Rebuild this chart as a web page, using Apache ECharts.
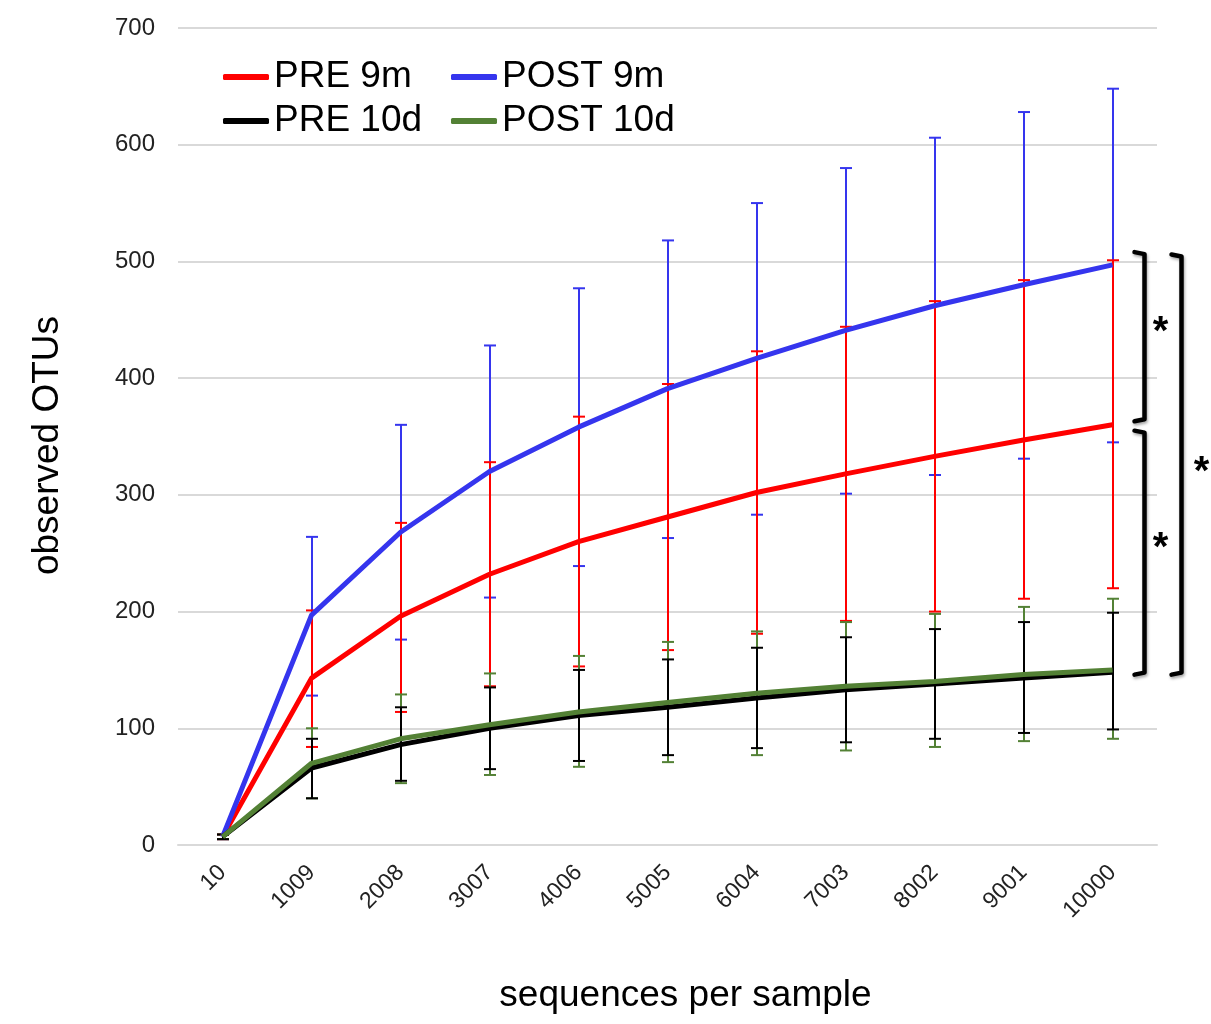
<!DOCTYPE html>
<html><head><meta charset="utf-8">
<script src="https://cdn.jsdelivr.net/npm/echarts@6/dist/echarts.min.js"></script>
<style>html,body{margin:0;padding:0;background:#fff}#c{width:1211px;height:1024px}</style>
</head><body><div id="c"></div>
<script>
const categories = ['10','1009','2008','3007','4006','5005','6004','7003','8002','9001','10000'];
const yTicks = [0,100,200,300,400,500,600,700];
const seriesNames = ['PRE 9m','POST 9m','PRE 10d','POST 10d'];

const pre9m     = [7,143,196,232,260,281,302,318,333,347,360];
const pre9mLow  = [5, 84,114,136,153,167,181,192,200,211,220];
const pre9mHigh = [9,201,276,328,367,395,423,444,466,484,501];

const post9m     = [7,197,268,320,358,391,417,441,462,480,497];
const post9mLow  = [5,128,176,212,239,263,283,301,317,331,345];
const post9mHigh = [9,264,360,428,477,518,550,580,606,628,648];

const pre10d     = [7, 66, 86,100,111,118,126,133,138,143,148];
const pre10dLow  = [5, 40, 55, 65, 72, 77, 83, 88, 91, 96, 99];
const pre10dHigh = [9, 91,118,135,150,159,169,178,185,191,199];

const post10d     = [7, 70, 91,103,114,122,130,136,140,146,150];
const post10dLow  = [5, 40, 53, 60, 67, 71, 77, 81, 84, 89, 91];
const post10dHigh = [9,100,129,147,162,174,183,191,198,204,211];

// significance brackets: [top value, bottom value]
const bracketPairs = [[508,363],[355,146],[506,146]];

const colors = ['#ff0000','#3535ee','#000000','#538135'];
const FONT = '"Liberation Sans", Arial, Helvetica, sans-serif';

const chart = echarts.init(document.getElementById('c'));

function errSeries(name, low, high, color, z) {
  return {
    name: name + ' error', type: 'custom', z: z, silent: true,
    itemStyle: { color: color },
    data: categories.map((c, i) => [i, low[i], high[i]]),
    renderItem: function (params, api) {
      const x = api.value(0);
      const lo = api.coord([x, api.value(1)]);
      const hi = api.coord([x, api.value(2)]);
      const px = Math.round(lo[0]);
      const w = 6;
      const st = { stroke: color, lineWidth: 2 };
      return { type: 'group', children: [
        { type: 'line', shape: { x1: px, y1: lo[1], x2: px, y2: hi[1] }, style: st },
        { type: 'line', shape: { x1: px-w, y1: lo[1], x2: px+w, y2: lo[1] }, style: st },
        { type: 'line', shape: { x1: px-w, y1: hi[1], x2: px+w, y2: hi[1] }, style: st }
      ]};
    }
  };
}
function lineSeries(name, data, color, z) {
  return { name: name, type: 'line', data: data, symbol: 'none', smooth: false, z: z,
    lineStyle: { color: color, width: 5 }, itemStyle: { color: color } };
}

chart.setOption({
  animation: false,
  textStyle: { fontFamily: FONT },
  grid: { left: 178, right: 54, top: 28, bottom: 179, outerBoundsMode: 'none', containLabel: false },
  legend: {
    data: seriesNames, left: 223, top: 58, width: 470, orient: 'horizontal', padding: 0,
    icon: 'roundRect', itemWidth: 46, itemHeight: 6, itemGap: 6,
    textStyle: { fontSize: 37, color: '#000', width: 171, lineHeight: 38, fontFamily: FONT }
  },
  xAxis: {
    type: 'category', data: categories, boundaryGap: true,
    name: 'sequences per sample', nameLocation: 'middle', nameGap: 132,
    nameTextStyle: { fontSize: 37, color: '#000', fontFamily: FONT, padding: [0, 0, 0, 36] },
    axisLine: { show: true, lineStyle: { color: '#d9d9d9', width: 2 } },
    axisTick: { show: false },
    axisLabel: { rotate: 45, fontSize: 23, color: '#222', margin: 24, fontFamily: FONT }
  },
  yAxis: {
    type: 'value', min: yTicks[0], max: yTicks[yTicks.length-1], interval: 100,
    name: 'observed OTUs', nameLocation: 'middle', nameGap: 112, nameRotate: 90,
    nameTextStyle: { fontSize: 37, color: '#000', fontFamily: FONT, padding: [0, 18, 0, 0] },
    axisLine: { show: false }, axisTick: { show: false },
    axisLabel: { fontSize: 24, color: '#222', margin: 23, fontFamily: FONT },
    splitLine: { lineStyle: { color: '#d9d9d9', width: 2 } }
  },
  series: [
    errSeries(seriesNames[1], post9mLow, post9mHigh, colors[1], 2),
    errSeries(seriesNames[0], pre9mLow, pre9mHigh, colors[0], 3),
    errSeries(seriesNames[3], post10dLow, post10dHigh, colors[3], 4),
    errSeries(seriesNames[2], pre10dLow, pre10dHigh, colors[2], 5),
    lineSeries(seriesNames[0], pre9m, colors[0], 10),
    lineSeries(seriesNames[1], post9m, colors[1], 11),
    lineSeries(seriesNames[2], pre10d, colors[2], 12),
    lineSeries(seriesNames[3], post10d, colors[3], 13)
  ]
});

// annotation brackets positioned from the axis scale
const lastIdx = categories.length - 1;
const xs = [22, 22, 59];
const starDx = [16, 16, 20];
const starDy = [-4, -4, 8];
const graphics = [];
bracketPairs.forEach((b, k) => {
  const top = chart.convertToPixel({ seriesIndex: 4 }, [lastIdx, b[0]]);
  const bot = chart.convertToPixel({ seriesIndex: 4 }, [lastIdx, b[1]]);
  const x0 = top[0] + xs[k], x1 = top[0] + xs[k] + 10;
  graphics.push({ type: 'polyline', z: 20,
    shape: { points: [[x0, top[1]], [x1, top[1]+2], [x1, bot[1]-2], [x0, bot[1]]] },
    style: { stroke: '#000', lineWidth: 4.5, fill: null, lineJoin: 'round', lineCap: 'round',
      shadowBlur: 3, shadowColor: 'rgba(0,0,0,0.35)', shadowOffsetX: 1, shadowOffsetY: 2 } });
  graphics.push({ type: 'text', z: 20,
    style: { text: '*', x: x1 + starDx[k], y: (top[1] + bot[1]) / 2 + starDy[k], fontSize: 40, fontWeight: 'bold', fill: '#000',
      align: 'center', verticalAlign: 'middle', fontFamily: FONT } });
});
chart.setOption({ graphic: graphics });
</script></body></html>
